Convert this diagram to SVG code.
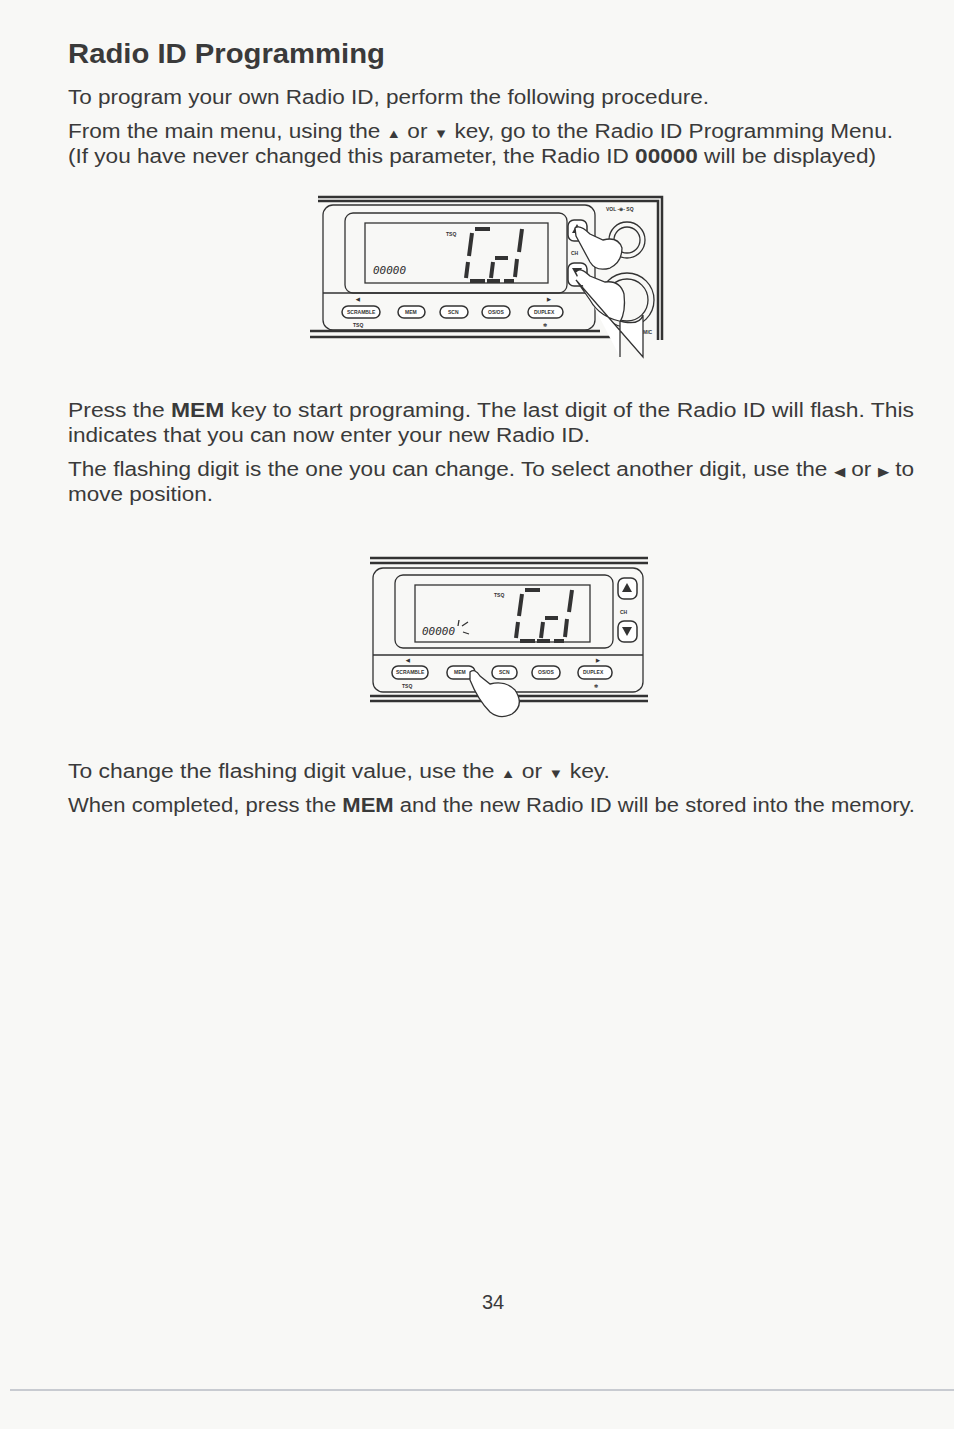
<svg xmlns="http://www.w3.org/2000/svg" width="954" height="1429" viewBox="0 0 954 1429">
<style>
.t{font-family:"Liberation Sans",Arial,sans-serif;font-size:20px;fill:#3a3a3a}
.h{font-family:"Liberation Sans",Arial,sans-serif;font-size:28px;font-weight:bold;fill:#3a3a3a}
.s{font-family:"Liberation Sans",Arial,sans-serif;font-size:5px;fill:#333;font-weight:bold}
.ln{fill:none;stroke:#333;stroke-width:1.3}
.th{fill:none;stroke:#333;stroke-width:2.5}
.btn{fill:#fff;stroke:#333;stroke-width:1.5}
.seg{fill:none;stroke:#333;stroke-width:4}
.lcd{font-family:"DejaVu Sans Mono",monospace;font-style:italic;font-size:11px;fill:#333}
.hand{fill:#fff;stroke:#333;stroke-width:1.3}
.tri{font-size:13px}
</style>
<rect width="954" height="1429" fill="#f8f8f6"/>
<text class="h" x="68" y="63" textLength="317" lengthAdjust="spacingAndGlyphs">Radio ID Programming</text>
<text class="t" x="68" y="104" textLength="641" lengthAdjust="spacingAndGlyphs">To program your own Radio ID, perform the following procedure.</text>
<text class="t" x="68" y="138" textLength="825" lengthAdjust="spacingAndGlyphs">From the main menu, using the <tspan class="tri">▲</tspan> or <tspan class="tri">▼</tspan> key, go to the Radio ID Programming Menu.</text>
<text class="t" x="68" y="163" textLength="808" lengthAdjust="spacingAndGlyphs">(If you have never changed this parameter, the Radio ID <tspan font-weight="bold">00000</tspan> will be displayed)</text>

<g id="radio1">
<path class="th" d="M318 197 H662 V340 M318 201 H658 V340"/>
<rect class="ln" x="323" y="205" width="272" height="125" rx="10"/>
<rect class="ln" x="345" y="213" width="222" height="80" rx="8"/>
<rect class="ln" x="365" y="223" width="183" height="60"/>
<line class="ln" x1="323" y1="293" x2="595" y2="293"/>
<text class="lcd" x="373" y="274">00000</text>
<text class="s" x="446" y="236">TSQ</text>
<path class="seg" d="M475 229 H490 M472 233 L469 256 M468 262 L466 278 M470 281 H485 M522 229 L519 252 M517 259 L515 277 M487 281 H500 M495 258 H508 M493 262 L491 278 M504 281 H514"/>
<text class="s" x="356" y="301">◀</text><text class="s" x="547" y="301">▶</text>
<rect class="btn" x="342" y="306" width="38" height="12" rx="6"/><text class="s" x="347" y="314">SCRAMBLE</text>
<rect class="btn" x="398" y="306" width="27" height="12" rx="6"/><text class="s" x="405" y="314">MEM</text>
<rect class="btn" x="440" y="306" width="28" height="12" rx="6"/><text class="s" x="448" y="314">SCN</text>
<rect class="btn" x="482" y="306" width="28" height="12" rx="6"/><text class="s" x="488" y="314">OS/OS</text>
<rect class="btn" x="528" y="306" width="35" height="12" rx="6"/><text class="s" x="534" y="314">DUPLEX</text>
<text class="s" x="353" y="327">TSQ</text><text class="s" x="543" y="327">✲</text>
<rect class="btn" x="568" y="220" width="19" height="21" rx="6"/><path d="M572 233 L577 224 L582 233 Z" fill="#333"/>
<text class="s" x="571" y="255">CH</text>
<rect class="btn" x="568" y="263" width="19" height="23" rx="6"/><path d="M572 268 L577 277 L582 268 Z" fill="#333"/>
<text class="s" x="606" y="211">VOL -⊕- SQ</text>
<circle class="ln" cx="627" cy="240" r="18"/><circle class="ln" cx="627" cy="240" r="13"/>
<circle class="ln" cx="627" cy="300" r="27"/><circle class="ln" cx="627" cy="300" r="21"/>
<text class="s" x="643" y="334">MIC</text>
<path class="th" d="M310 331 H600 M310 337 H615"/>
<path class="hand" d="M575 228 Q580 224 590 234 L603 240 Q618 236 622 248 Q622 262 610 268 Q596 272 590 262 L576 236 Z"/>
<path class="hand" d="M576 272 Q580 266 590 276 L605 282 Q620 280 624 294 Q626 312 620 322 L620 357 M643 357 L643 315 Q640 325 624 322 Q600 318 590 300 L576 280 Z"/>
</g>

<text class="t" x="68" y="417" textLength="846" lengthAdjust="spacingAndGlyphs">Press the <tspan font-weight="bold">MEM</tspan> key to start programing. The last digit of the Radio ID will flash. This</text>
<text class="t" x="68" y="442" textLength="522" lengthAdjust="spacingAndGlyphs">indicates that you can now enter your new Radio ID.</text>
<text class="t" x="68" y="476" textLength="846" lengthAdjust="spacingAndGlyphs">The flashing digit is the one you can change. To select another digit, use the <tspan class="tri">◀</tspan> or <tspan class="tri">▶</tspan> to</text>
<text class="t" x="68" y="501" textLength="145" lengthAdjust="spacingAndGlyphs">move position.</text>

<g id="radio2">
<path class="th" d="M370 558 H648 M370 563 H648"/>
<rect class="ln" x="373" y="568" width="270" height="124" rx="10"/>
<rect class="ln" x="395" y="575" width="218" height="73" rx="8"/>
<rect class="ln" x="415" y="585" width="175" height="57"/>
<line class="ln" x1="373" y1="655" x2="643" y2="655"/>
<text class="lcd" x="422" y="635">00000</text>
<path class="ln" d="M462 626 L468 622 M463 632 L469 634 M459 620 L458 626" stroke-width="0.8"/>
<text class="s" x="494" y="597">TSQ</text>
<path class="seg" d="M525 590 H540 M522 594 L519 616 M518 622 L516 638 M520 641 H535 M572 590 L569 612 M567 619 L565 637 M537 641 H550 M545 618 H558 M543 622 L541 638 M554 641 H564"/>
<text class="s" x="406" y="662">◀</text><text class="s" x="596" y="662">▶</text>
<rect class="btn" x="392" y="666" width="36" height="13" rx="6"/><text class="s" x="396" y="674">SCRAMBLE</text>
<rect class="btn" x="447" y="666" width="28" height="13" rx="6" fill="#888"/><text class="s" x="454" y="674">MEM</text>
<rect class="btn" x="492" y="666" width="25" height="13" rx="6"/><text class="s" x="499" y="674">SCN</text>
<rect class="btn" x="532" y="666" width="28" height="13" rx="6"/><text class="s" x="538" y="674">OS/OS</text>
<rect class="btn" x="578" y="666" width="34" height="13" rx="6"/><text class="s" x="583" y="674">DUPLEX</text>
<text class="s" x="402" y="688">TSQ</text><text class="s" x="594" y="688">✲</text>
<rect class="btn" x="618" y="578" width="19" height="21" rx="6"/><path d="M622 592 L627 583 L632 592 Z" fill="#333"/>
<text class="s" x="620" y="614">CH</text>
<rect class="btn" x="618" y="621" width="19" height="21" rx="6"/><path d="M622 627 L627 636 L632 627 Z" fill="#333"/>
<path class="th" d="M370 696 H648 M370 701 H648"/>
<path class="hand" d="M470 672 Q475 668 480 676 L490 684 Q505 680 515 690 Q525 705 512 714 Q500 720 490 712 Q478 700 470 680 Z"/>
</g>

<text class="t" x="68" y="778" textLength="542" lengthAdjust="spacingAndGlyphs">To change the flashing digit value, use the <tspan class="tri">▲</tspan> or <tspan class="tri">▼</tspan> key.</text>
<text class="t" x="68" y="812" textLength="847" lengthAdjust="spacingAndGlyphs">When completed, press the <tspan font-weight="bold">MEM</tspan> and the new Radio ID will be stored into the memory.</text>
<text class="t" x="482" y="1309">34</text>
<line x1="10" y1="1390" x2="954" y2="1390" stroke="#b8bcc4" stroke-width="1.5"/>
</svg>
